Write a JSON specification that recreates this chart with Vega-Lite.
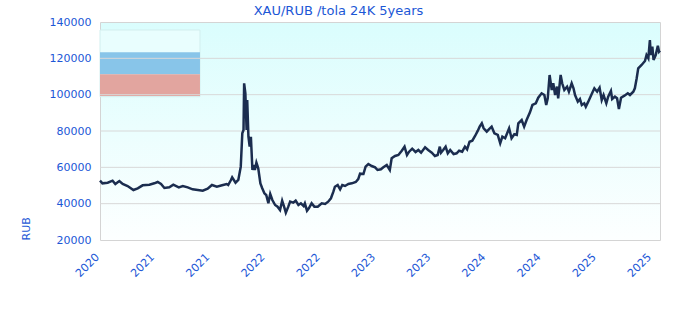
{
  "$schema": "https://vega.github.io/schema/vega-lite/v6.json",
  "autosize": {"type": "none"},
  "width": 560,
  "height": 218,
  "padding": {"left": 100, "top": 22, "right": 20, "bottom": 80},
  "background": "#ffffff",
  "title": {"text": "XAU/RUB /tola 24K 5years", "color": "#1c57d6", "fontSize": 13, "fontWeight": "normal", "font": "DejaVu Sans", "offset": -2, "frame": "bounds", "anchor": "middle", "dx": -4},
  "config": {
    "font": "DejaVu Sans",
    "view": {"stroke": "#d4d4d4", "strokeWidth": 1, "fill": {"gradient": "linear", "x1": 0, "y1": 0, "x2": 0, "y2": 1, "stops": [{"offset": 0, "color": "#dafdfd"}, {"offset": 1, "color": "#fdffff"}]}},
    "axisX": {"labelAngle": -45, "labelColor": "#1c57d6", "labelFontSize": 11, "labelPadding": 11, "labelOffset": -7, "ticks": false, "domain": false, "grid": false, "labelOverlap": false, "title": null},
    "axisY": {"labelColor": "#1c57d6", "labelFontSize": 11, "labelPadding": 9, "ticks": false, "domain": false, "grid": false, "labelOverlap": false, "titleColor": "#1c57d6", "titleFontWeight": "normal", "titleFontSize": 11, "titleAnchor": "start", "titlePadding": 18}
  },
  "datasets": {
    "price": [
      {"date": "2020-11-22", "rub": 52640}, {"date": "2020-11-30", "rub": 51200}, {"date": "2020-12-17", "rub": 51550},
      {"date": "2021-01-02", "rub": 52640}, {"date": "2021-01-11", "rub": 50830}, {"date": "2021-01-24", "rub": 52470},
      {"date": "2021-02-04", "rub": 50830}, {"date": "2021-02-20", "rub": 49730}, {"date": "2021-03-11", "rub": 47520},
      {"date": "2021-03-25", "rub": 48460}, {"date": "2021-04-10", "rub": 50100}, {"date": "2021-05-02", "rub": 50440},
      {"date": "2021-05-18", "rub": 51200}, {"date": "2021-05-29", "rub": 51930}, {"date": "2021-06-09", "rub": 50830},
      {"date": "2021-06-20", "rub": 48630}, {"date": "2021-07-06", "rub": 49000}, {"date": "2021-07-19", "rub": 50440},
      {"date": "2021-08-06", "rub": 49000}, {"date": "2021-08-19", "rub": 49730}, {"date": "2021-09-04", "rub": 49000},
      {"date": "2021-09-20", "rub": 47900}, {"date": "2021-10-07", "rub": 47520}, {"date": "2021-10-23", "rub": 47150},
      {"date": "2021-11-08", "rub": 48240}, {"date": "2021-11-22", "rub": 50270}, {"date": "2021-12-08", "rub": 49340},
      {"date": "2021-12-25", "rub": 50100}, {"date": "2022-01-09", "rub": 50830}, {"date": "2022-01-14", "rub": 50270},
      {"date": "2022-01-23", "rub": 53030}, {"date": "2022-01-27", "rub": 54500}, {"date": "2022-02-07", "rub": 51550},
      {"date": "2022-02-16", "rub": 53030}, {"date": "2022-02-24", "rub": 60370}, {"date": "2022-03-01", "rub": 78710},
      {"date": "2022-03-05", "rub": 80550}, {"date": "2022-03-07", "rub": 106250}, {"date": "2022-03-11", "rub": 100750},
      {"date": "2022-03-15", "rub": 80550}, {"date": "2022-03-17", "rub": 97060}, {"date": "2022-03-21", "rub": 76870},
      {"date": "2022-03-25", "rub": 71370}, {"date": "2022-03-29", "rub": 76870}, {"date": "2022-04-03", "rub": 58530},
      {"date": "2022-04-07", "rub": 61280}, {"date": "2022-04-11", "rub": 58530}, {"date": "2022-04-16", "rub": 62560},
      {"date": "2022-04-22", "rub": 59470}, {"date": "2022-04-29", "rub": 51200}, {"date": "2022-05-05", "rub": 48460},
      {"date": "2022-05-12", "rub": 45710}, {"date": "2022-05-18", "rub": 44770}, {"date": "2022-05-25", "rub": 40200},
      {"date": "2022-05-31", "rub": 45320}, {"date": "2022-06-07", "rub": 42020}, {"date": "2022-06-16", "rub": 39270},
      {"date": "2022-06-24", "rub": 38350}, {"date": "2022-07-02", "rub": 36510}, {"date": "2022-07-09", "rub": 41650},
      {"date": "2022-07-16", "rub": 38000}, {"date": "2022-07-21", "rub": 35040}, {"date": "2022-07-29", "rub": 38350},
      {"date": "2022-08-04", "rub": 41100}, {"date": "2022-08-14", "rub": 40550}, {"date": "2022-08-22", "rub": 41650},
      {"date": "2022-08-31", "rub": 39270}, {"date": "2022-09-08", "rub": 40200}, {"date": "2022-09-17", "rub": 38720},
      {"date": "2022-09-21", "rub": 40200}, {"date": "2022-09-28", "rub": 36140}, {"date": "2022-10-04", "rub": 37450},
      {"date": "2022-10-13", "rub": 40200}, {"date": "2022-10-22", "rub": 38350}, {"date": "2022-11-02", "rub": 38350},
      {"date": "2022-11-15", "rub": 40200}, {"date": "2022-11-26", "rub": 39820}, {"date": "2022-12-06", "rub": 41100},
      {"date": "2022-12-15", "rub": 42960}, {"date": "2022-12-23", "rub": 46590}, {"date": "2022-12-28", "rub": 49340},
      {"date": "2023-01-06", "rub": 50270}, {"date": "2023-01-14", "rub": 47900}, {"date": "2023-01-21", "rub": 50270},
      {"date": "2023-01-30", "rub": 49730}, {"date": "2023-02-10", "rub": 50830}, {"date": "2023-02-21", "rub": 51200},
      {"date": "2023-03-06", "rub": 51930}, {"date": "2023-03-14", "rub": 53500}, {"date": "2023-03-20", "rub": 56500},
      {"date": "2023-03-31", "rub": 56330}, {"date": "2023-04-07", "rub": 60370}, {"date": "2023-04-16", "rub": 61840},
      {"date": "2023-04-27", "rub": 60730}, {"date": "2023-05-08", "rub": 60000}, {"date": "2023-05-16", "rub": 58530},
      {"date": "2023-05-27", "rub": 58900}, {"date": "2023-06-04", "rub": 60000}, {"date": "2023-06-15", "rub": 61280},
      {"date": "2023-06-25", "rub": 58530}, {"date": "2023-07-01", "rub": 64970}, {"date": "2023-07-12", "rub": 66240},
      {"date": "2023-07-23", "rub": 66790}, {"date": "2023-08-03", "rub": 69160}, {"date": "2023-08-12", "rub": 71370},
      {"date": "2023-08-20", "rub": 66790}, {"date": "2023-08-27", "rub": 68610}, {"date": "2023-09-06", "rub": 70260},
      {"date": "2023-09-17", "rub": 68440}, {"date": "2023-09-26", "rub": 69540}, {"date": "2023-10-05", "rub": 68060},
      {"date": "2023-10-18", "rub": 71030}, {"date": "2023-10-28", "rub": 69540}, {"date": "2023-11-09", "rub": 68060},
      {"date": "2023-11-19", "rub": 66240}, {"date": "2023-11-28", "rub": 66790}, {"date": "2023-12-05", "rub": 71370},
      {"date": "2023-12-09", "rub": 68060}, {"date": "2023-12-16", "rub": 69540}, {"date": "2023-12-24", "rub": 71370},
      {"date": "2023-12-31", "rub": 67700}, {"date": "2024-01-08", "rub": 69540}, {"date": "2024-01-19", "rub": 67340},
      {"date": "2024-01-29", "rub": 67700}, {"date": "2024-02-06", "rub": 69160}, {"date": "2024-02-16", "rub": 68610},
      {"date": "2024-02-25", "rub": 71370}, {"date": "2024-03-03", "rub": 69920}, {"date": "2024-03-11", "rub": 74110},
      {"date": "2024-03-20", "rub": 74660}, {"date": "2024-03-29", "rub": 77250}, {"date": "2024-04-07", "rub": 80180},
      {"date": "2024-04-13", "rub": 82380}, {"date": "2024-04-20", "rub": 84200}, {"date": "2024-04-26", "rub": 81480},
      {"date": "2024-05-06", "rub": 79620}, {"date": "2024-05-13", "rub": 80940}, {"date": "2024-05-22", "rub": 82380},
      {"date": "2024-05-31", "rub": 78710}, {"date": "2024-06-11", "rub": 77800}, {"date": "2024-06-19", "rub": 73230},
      {"date": "2024-06-26", "rub": 76870}, {"date": "2024-07-05", "rub": 76000}, {"date": "2024-07-18", "rub": 81480},
      {"date": "2024-07-26", "rub": 75980}, {"date": "2024-08-04", "rub": 78180}, {"date": "2024-08-12", "rub": 77800},
      {"date": "2024-08-17", "rub": 84240}, {"date": "2024-08-28", "rub": 86060}, {"date": "2024-09-05", "rub": 82380},
      {"date": "2024-09-13", "rub": 86060}, {"date": "2024-09-24", "rub": 90290}, {"date": "2024-10-02", "rub": 94310},
      {"date": "2024-10-13", "rub": 95250}, {"date": "2024-10-21", "rub": 98340}, {"date": "2024-11-01", "rub": 100750},
      {"date": "2024-11-10", "rub": 99820}, {"date": "2024-11-16", "rub": 94310}, {"date": "2024-11-21", "rub": 98000},
      {"date": "2024-11-27", "rub": 110830}, {"date": "2024-12-04", "rub": 102570}, {"date": "2024-12-09", "rub": 106250},
      {"date": "2024-12-15", "rub": 99820}, {"date": "2024-12-21", "rub": 104420}, {"date": "2024-12-25", "rub": 98000},
      {"date": "2025-01-02", "rub": 110830}, {"date": "2025-01-07", "rub": 106250}, {"date": "2025-01-14", "rub": 102570},
      {"date": "2025-01-23", "rub": 104420}, {"date": "2025-01-29", "rub": 101640}, {"date": "2025-02-07", "rub": 106250},
      {"date": "2025-02-13", "rub": 103500}, {"date": "2025-02-18", "rub": 99820}, {"date": "2025-02-27", "rub": 96150},
      {"date": "2025-03-06", "rub": 97610}, {"date": "2025-03-12", "rub": 94310}, {"date": "2025-03-20", "rub": 95250},
      {"date": "2025-03-25", "rub": 93380}, {"date": "2025-04-02", "rub": 96150}, {"date": "2025-04-13", "rub": 100200},
      {"date": "2025-04-22", "rub": 103500}, {"date": "2025-05-01", "rub": 101640}, {"date": "2025-05-09", "rub": 103830},
      {"date": "2025-05-16", "rub": 97060}, {"date": "2025-05-22", "rub": 99820}, {"date": "2025-05-31", "rub": 95250},
      {"date": "2025-06-06", "rub": 98900}, {"date": "2025-06-15", "rub": 102020}, {"date": "2025-06-19", "rub": 97610},
      {"date": "2025-06-28", "rub": 98900}, {"date": "2025-07-05", "rub": 98000}, {"date": "2025-07-11", "rub": 92110},
      {"date": "2025-07-18", "rub": 98340}, {"date": "2025-07-29", "rub": 99450}, {"date": "2025-08-09", "rub": 100750},
      {"date": "2025-08-16", "rub": 99820}, {"date": "2025-08-27", "rub": 101640}, {"date": "2025-09-01", "rub": 103500},
      {"date": "2025-09-07", "rub": 109010}, {"date": "2025-09-12", "rub": 114510}, {"date": "2025-09-23", "rub": 116330},
      {"date": "2025-10-04", "rub": 118530}, {"date": "2025-10-09", "rub": 121830}, {"date": "2025-10-15", "rub": 120010},
      {"date": "2025-10-20", "rub": 130090}, {"date": "2025-10-23", "rub": 121830}, {"date": "2025-10-28", "rub": 126410},
      {"date": "2025-11-01", "rub": 119080}, {"date": "2025-11-08", "rub": 121830}, {"date": "2025-11-15", "rub": 126950},
      {"date": "2025-11-19", "rub": 123650}, {"date": "2025-11-22", "rub": 124300}
    ],
    "box": [{"date": "2020-11-22", "date2": "2021-10-14", "rub": 98880, "rub2": 135600}],
    "bands": [
      {"band": "upper", "date": "2020-11-22", "date2": "2021-10-14", "rub": 111210, "rub2": 123320},
      {"band": "lower", "date": "2020-11-22", "date2": "2021-10-14", "rub": 99270, "rub2": 111210}
    ],
    "grid": [{"rub": 40000}, {"rub": 60000}, {"rub": 80000}, {"rub": 100000}, {"rub": 120000}]
  },
  "layer": [
    {
      "data": {"name": "box"},
      "mark": {"type": "rect", "fill": "#e9fefe", "stroke": "#d2eeee", "strokeWidth": 1},
      "encoding": {
        "x": {"field": "date", "type": "temporal",
          "scale": {"type": "utc", "domain": [{"year": 2020, "month": 11, "date": 22, "utc": true}, {"year": 2025, "month": 11, "date": 22, "utc": true}]},
          "axis": {"format": "%Y", "values": [
              {"year": 2020, "month": 11, "date": 22, "utc": true},
              {"year": 2021, "month": 5, "date": 21, "utc": true},
              {"year": 2021, "month": 11, "date": 17, "utc": true},
              {"year": 2022, "month": 5, "date": 16, "utc": true},
              {"year": 2022, "month": 11, "date": 12, "utc": true},
              {"year": 2023, "month": 5, "date": 11, "utc": true},
              {"year": 2023, "month": 11, "date": 7, "utc": true},
              {"year": 2024, "month": 5, "date": 5, "utc": true},
              {"year": 2024, "month": 11, "date": 1, "utc": true},
              {"year": 2025, "month": 4, "date": 30, "utc": true},
              {"year": 2025, "month": 10, "date": 27, "utc": true}
            ]}},
        "x2": {"field": "date2"},
        "y": {"field": "rub", "type": "quantitative",
          "scale": {"domain": [20000, 140000], "nice": false, "zero": false},
          "axis": {"title": "RUB", "format": "d", "labelOverlap": false, "labelSeparation": 0, "tickCount": 7, "values": [20000, 40000, 60000, 80000, 100000, 120000, 140000]}},
        "y2": {"field": "rub2"}
      }
    },
    {
      "data": {"name": "bands"},
      "mark": {"type": "rect"},
      "encoding": {
        "x": {"field": "date", "type": "temporal"},
        "x2": {"field": "date2"},
        "y": {"field": "rub", "type": "quantitative"},
        "y2": {"field": "rub2"},
        "color": {"field": "band", "type": "nominal", "scale": {"domain": ["upper", "lower"], "range": ["#88c5e9", "#e2a59f"]}, "legend": null}
      }
    },
    {
      "data": {"name": "grid"},
      "mark": {"type": "rule", "color": "#d8d8d8", "strokeWidth": 1},
      "encoding": {"y": {"field": "rub", "type": "quantitative"}}
    },
    {
      "data": {"name": "price"},
      "mark": {"type": "line", "color": "#1b2d4f", "strokeWidth": 2.5, "strokeJoin": "miter"},
      "encoding": {
        "x": {"field": "date", "type": "temporal"},
        "y": {"field": "rub", "type": "quantitative"}
      }
    }
  ]
}
